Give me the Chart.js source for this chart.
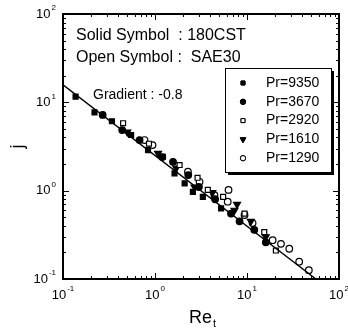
<!DOCTYPE html>
<html>
<head>
<meta charset="utf-8">
<script src="https://cdn.jsdelivr.net/npm/chart.js@4.4.0/dist/chart.umd.min.js"></script>
<style>body{margin:0;background:#fff}</style>
</head>
<body>
<canvas id="grafico" width="348" height="333"></canvas>
<script>
// Dados (j x Re_t)
const seriesNames = ['Pr=9350', 'Pr=3670', 'Pr=2920', 'Pr=1610', 'Pr=1290']

const re9350 = [0.137, 0.22, 0.34, 0.55, 0.84, 1.63, 2.1, 2.58, 3.31, 5.23]
const j9350 = [11.6, 7.7, 6.1, 4.27, 2.88, 1.57, 1.21, 0.97, 0.85, 0.63]

const re3670 = [0.27, 0.44, 0.68, 1.2, 1.57, 2.3, 3.0, 4.5, 6.7, 8.3, 12, 16]
const j3670 = [7.2, 4.85, 3.74, 2.4, 2.12, 1.5, 1.1, 0.8, 0.55, 0.45, 0.36, 0.26]

const re2920 = [0.45, 0.86, 1.22, 1.85, 2.9, 3.75, 5.5, 9.4, 15.4, 20.6]
const j2920 = [5.8, 3.4, 2.42, 1.95, 1.4, 1.02, 0.85, 0.55, 0.34, 0.21]

const re1610 = [0.5, 1.08, 1.7, 2.69, 4.2, 7.3, 7.8, 11, 16]
const j1610 = [4.6, 2.64, 1.8, 1.1, 0.95, 0.6, 0.7, 0.45, 0.3]

const re1290 = [0.77, 0.94, 2.28, 3.05, 4.43, 6.17, 6.3, 9.4, 11.5, 19, 23.4, 28.8, 36.9, 47]
const j1290 = [3.74, 3.28, 1.64, 1.26, 0.89, 0.75, 1.02, 0.53, 0.43, 0.275, 0.25, 0.22, 0.157, 0.126]

// reta de ajuste, gradiente -0.8
const fitRe = [0.1, 56]
const fitJ = [15.8, 0.1]

// rótulos dos eixos (décadas)
const decadeValues = [0.1, 1, 10, 100]
const decadeExps = ['-1', '0', '1', '2']

function pares(xs, ys) {
    return xs.map((x, i) => ({ x: x, y: ys[i] }))
}

const estilos = [
    { pointStyle: 'rect', fill: '#000', rot: 0, r: 3.5 },
    { pointStyle: 'circle', fill: '#000', rot: 0, r: 3.3 },
    { pointStyle: 'rect', fill: '#fff', rot: 0, r: 3.5 },
    { pointStyle: 'triangle', fill: '#000', rot: 180, r: 4 },
    { pointStyle: 'circle', fill: '#fff', rot: 0, r: 3.3 }
]
const dadosX = [re9350, re3670, re2920, re1610, re1290]
const dadosY = [j9350, j3670, j2920, j1610, j1290]

const datasets = seriesNames.map((nome, i) => ({
    label: nome,
    data: pares(dadosX[i], dadosY[i]),
    pointStyle: estilos[i].pointStyle,
    rotation: estilos[i].rot,
    pointRadius: estilos[i].r,
    backgroundColor: estilos[i].fill,
    borderColor: '#000',
    borderWidth: 1.2,
    showLine: false
}))
datasets.push({
    label: 'ajuste',
    data: pares(fitRe, fitJ),
    showLine: true,
    borderColor: '#000',
    borderWidth: 1.4,
    pointRadius: 0,
    order: -1
})

const fonte = '"Liberation Sans", Arial, sans-serif'

// escreve 10 com expoente
function potencia(ctx, x, y, exp, align) {
    ctx.font = '13px ' + fonte
    const w10 = ctx.measureText('10').width
    ctx.font = '8px ' + fonte
    const we = ctx.measureText(exp).width
    const total = w10 + we + 1
    let x0 = x
    if (align == 'right') x0 = x - total
    if (align == 'center') x0 = x - total / 2
    ctx.textAlign = 'left'
    ctx.textBaseline = 'middle'
    ctx.font = '13px ' + fonte
    ctx.fillText('10', x0, y)
    ctx.font = '8px ' + fonte
    ctx.fillText(exp, x0 + w10 + 1, y - 6)
}

const moldura = {
    id: 'moldura',
    afterDraw(chart) {
        const ctx = chart.ctx
        const xs = chart.scales.x
        const ys = chart.scales.y
        const a = chart.chartArea
        ctx.save()
        ctx.fillStyle = '#000'
        ctx.strokeStyle = '#000'

        // marcas dos eixos, para dentro
        ctx.lineWidth = 1
        ctx.beginPath()
        for (let d = -1; d <= 2; d++) {
            for (let m = 1; m <= 9; m++) {
                const v = m * Math.pow(10, d)
                if (v > 100.001) break
                const len = m == 1 ? 6 : 3
                const px = Math.round(xs.getPixelForValue(v)) + 0.5
                const py = Math.round(ys.getPixelForValue(v)) + 0.5
                ctx.moveTo(px, a.bottom); ctx.lineTo(px, a.bottom - len)
                ctx.moveTo(px, a.top); ctx.lineTo(px, a.top + len)
                ctx.moveTo(a.left, py); ctx.lineTo(a.left + len, py)
                ctx.moveTo(a.right, py); ctx.lineTo(a.right - len, py)
            }
        }
        ctx.stroke()

        ctx.lineWidth = 2
        ctx.strokeRect(a.left, a.top, a.right - a.left, a.bottom - a.top)

        // rótulos
        decadeValues.forEach((v, i) => {
            potencia(ctx, a.left - 7, ys.getPixelForValue(v), decadeExps[i], 'right')
            potencia(ctx, xs.getPixelForValue(v), a.bottom + 16, decadeExps[i], 'center')
        })

        // títulos dos eixos
        ctx.font = '18px ' + fonte
        ctx.textBaseline = 'middle'
        ctx.textAlign = 'left'
        const wRe = ctx.measureText('Re').width
        const xRe = (a.left + a.right) / 2 - 12
        ctx.fillText('Re', xRe, 318)
        ctx.font = '11px ' + fonte
        ctx.fillText('t', xRe + wRe + 1, 324)

        ctx.save()
        ctx.translate(18, (a.top + a.bottom) / 2)
        ctx.rotate(-Math.PI / 2)
        ctx.font = '18px ' + fonte
        ctx.textAlign = 'center'
        ctx.fillText('j', 0, 0)
        ctx.restore()

        // anotações
        ctx.font = '16px ' + fonte
        ctx.textAlign = 'left'
        ctx.fillText('Solid Symbol  : 180CST', a.left + 13, 36)
        ctx.fillText('Open Symbol :  SAE30', a.left + 13, 58)
        ctx.font = '14px ' + fonte
        ctx.fillText('Gradient : -0.8', a.left + 30, 95)

        // legenda
        const lx = 225, ly = 68, lw = 106, lh = 104
        ctx.fillStyle = '#000'
        ctx.fillRect(lx + 3, ly + 3, lw, lh)
        ctx.fillStyle = '#fff'
        ctx.fillRect(lx, ly, lw, lh)
        ctx.lineWidth = 1
        ctx.strokeRect(lx + 0.5, ly + 0.5, lw, lh)
        chart.data.datasets.forEach((ds, i) => {
            if (i >= seriesNames.length) return
            const yy = ly + 15 + i * 18.8
            Chart.helpers.drawPoint(ctx, {
                pointStyle: ds.pointStyle,
                rotation: ds.rotation,
                radius: ds.pointRadius * 0.8,
                borderWidth: 1
            }, lx + 18, yy)
            ctx.fillStyle = ds.backgroundColor
            ctx.strokeStyle = '#000'
            ctx.fill()
            ctx.stroke()
            ctx.fillStyle = '#000'
            ctx.font = '14px ' + fonte
            ctx.textAlign = 'left'
            ctx.textBaseline = 'middle'
            ctx.fillText(ds.label, lx + 41, yy)
        })
        ctx.restore()
    }
}

const grafico = new Chart(document.getElementById('grafico'), {
    type: 'scatter',
    data: { datasets: datasets },
    options: {
        responsive: false,
        animation: false,
        layout: { padding: { top: 14, right: 9, left: 0, bottom: 0 } },
        plugins: { legend: { display: false }, tooltip: { enabled: false } },
        scales: {
            x: {
                type: 'logarithmic',
                min: 0.1,
                max: 100,
                grid: { display: false },
                border: { display: false },
                ticks: { display: false },
                afterFit: (s) => { s.height = 54 }
            },
            y: {
                type: 'logarithmic',
                min: 0.1,
                max: 100,
                grid: { display: false },
                border: { display: false },
                ticks: { display: false },
                afterFit: (s) => { s.width = 63 }
            }
        }
    },
    plugins: [moldura]
})
</script>
</body>
</html>
